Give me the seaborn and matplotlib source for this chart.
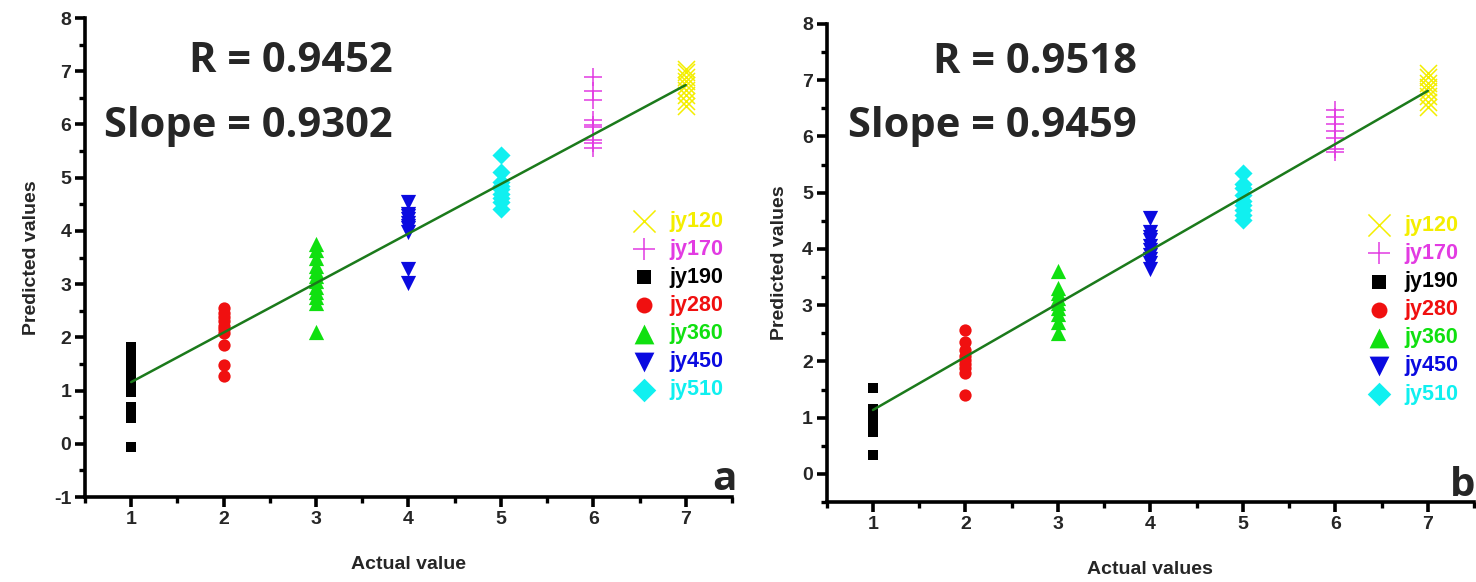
import numpy as np
import pandas as pd
import matplotlib
matplotlib.use("Agg")
import matplotlib.pyplot as plt
from matplotlib.ticker import MultipleLocator
import seaborn as sns

sns.set_theme(style="white")
plt.rcParams["font.family"] = ["Liberation Sans", "DejaVu Sans"]
plt.rcParams["font.weight"] = "bold"
plt.rcParams["axes.labelweight"] = "bold"
plt.rcParams["axes.unicode_minus"] = False

# ---- data -------------------------------------------------------------
series_names = ["jy120", "jy170", "jy190", "jy280", "jy360", "jy450", "jy510"]
actual_levels = [7, 6, 1, 2, 3, 4, 5]

# panel a: predicted values per cultivar
a_jy120 = [7.05, 6.98, 6.90, 6.82, 6.75, 6.65, 6.55, 6.45, 6.35]
a_jy170 = [6.90, 6.62, 6.46, 6.08, 5.99, 5.95, 5.71, 5.65, 5.55]
a_jy190 = [1.82, 1.72, 1.62, 1.52, 1.42, 1.32, 1.22, 1.12, 1.05, 0.98,
           0.70, 0.60, 0.49, -0.06]
a_jy280 = [2.55, 2.45, 2.38, 2.30, 2.22, 2.15, 2.08, 1.85, 1.48, 1.27]
a_jy360 = [3.75, 3.65, 3.50, 3.35, 3.25, 3.15, 3.05, 2.95, 2.85, 2.75,
           2.65, 2.10]
a_jy450 = [4.55, 4.32, 4.28, 4.22, 4.15, 4.10, 4.05, 3.98, 3.28, 3.02]
a_jy510 = [5.42, 5.10, 4.92, 4.85, 4.78, 4.70, 4.62, 4.55, 4.42]

# panel b: predicted values per cultivar
b_jy120 = [7.12, 7.05, 6.95, 6.88, 6.80, 6.72, 6.62, 6.52]
b_jy170 = [6.47, 6.35, 6.22, 6.10, 5.97, 5.78, 5.72]
b_jy190 = [1.52, 1.15, 1.05, 0.98, 0.90, 0.82, 0.75, 0.33]
b_jy280 = [2.56, 2.35, 2.20, 2.10, 2.02, 1.95, 1.88, 1.80, 1.40]
b_jy360 = [3.60, 3.30, 3.22, 3.12, 3.03, 2.95, 2.85, 2.70, 2.50]
b_jy450 = [4.55, 4.30, 4.22, 4.15, 4.05, 3.98, 3.90, 3.82, 3.75, 3.65]
b_jy510 = [5.35, 5.15, 5.08, 4.95, 4.85, 4.78, 4.70, 4.60, 4.52]

a_r, a_slope, a_intercept = 0.9452, 0.9302, 0.23
b_r, b_slope, b_intercept = 0.9518, 0.9459, 0.19
fit_x = [1, 7]

a_values = [a_jy120, a_jy170, a_jy190, a_jy280, a_jy360, a_jy450, a_jy510]
b_values = [b_jy120, b_jy170, b_jy190, b_jy280, b_jy360, b_jy450, b_jy510]

# ---- styling ----------------------------------------------------------
colors = ["#F4EE00", "#E23BE2", "#000000", "#F01010", "#10E010", "#0A0AE0", "#10F0F0"]
markers = ["x", "+", "s", "o", "^", "v", "D"]
sizes = [150, 150, 58, 78, 120, 120, 85]
line_color = "#1B7A1B"

fig = plt.figure(figsize=(14.76, 5.82), dpi=100)
ax_a = fig.add_axes([0.0576, 0.146, 0.4383, 0.823])
ax_b = fig.add_axes([0.5601, 0.1375, 0.4386, 0.8213])


def draw_panel(ax, values, r, slope, intercept, ylim, xlabel, letter,
               txt_pos, letter_pos, legend_anchor):
    for name, lvl, vals, col, mk, sz in zip(series_names, actual_levels, values,
                                            colors, markers, sizes):
        df = pd.DataFrame({"actual": [lvl] * len(vals), "predicted": vals})
        if mk in ("x", "+"):
            sns.scatterplot(data=df, x="actual", y="predicted", ax=ax, marker=mk,
                            color=col, s=sz, linewidth=1.1, label=name, zorder=3)
        else:
            sns.scatterplot(data=df, x="actual", y="predicted", ax=ax, marker=mk,
                            color=col, s=sz, linewidth=0, label=name, zorder=3)

    fit = pd.DataFrame({"actual": fit_x,
                        "predicted": [intercept + slope * v for v in fit_x]})
    sns.lineplot(data=fit, x="actual", y="predicted", ax=ax, color=line_color,
                 linewidth=1.8, zorder=4, legend=False)

    ax.set_xlim(0.5, 7.5)
    ax.set_ylim(*ylim)
    ax.xaxis.set_major_locator(MultipleLocator(1))
    ax.xaxis.set_minor_locator(MultipleLocator(0.5))
    ax.yaxis.set_major_locator(MultipleLocator(1))
    ax.yaxis.set_minor_locator(MultipleLocator(0.5))
    for side in ("top", "right"):
        ax.spines[side].set_visible(False)
    for side in ("left", "bottom"):
        ax.spines[side].set_linewidth(2.6)
        ax.spines[side].set_color("black")
    ax.tick_params(which="major", direction="out", length=7, width=2.6,
                   color="black", labelsize=14, pad=3, left=True, bottom=True)
    ax.tick_params(which="minor", direction="out", length=4, width=2.4,
                   color="black", left=True, bottom=True)
    ax.set_xticks([1, 2, 3, 4, 5, 6, 7])

    ax.set_xlabel(xlabel, fontsize=14, fontweight="bold", labelpad=20)
    ax.set_ylabel("Predicted values", fontsize=14, fontweight="bold", labelpad=10)

    ax.text(txt_pos[0], txt_pos[1], f"R = {r:.4f}", ha="right", va="center",
            fontsize=30, fontweight="bold", family="Open Sans")
    ax.text(txt_pos[0], txt_pos[2], f"Slope = {slope:.4f}", ha="right", va="center",
            fontsize=30, fontweight="bold", family="Open Sans")
    ax.text(letter_pos[0], letter_pos[1], letter, ha=letter_pos[2], va="baseline",
            fontsize=29, fontweight="bold", family="Open Sans", clip_on=False)

    leg = ax.legend(loc="upper left", bbox_to_anchor=legend_anchor, frameon=False,
                    prop={"size": 15.5, "weight": "bold"}, labelspacing=0.33,
                    handletextpad=0.55, handlelength=1.2, borderpad=0.0,
                    markerscale=1.3)
    for txt, col in zip(leg.get_texts(), colors):
        txt.set_color(col)
    ax.set_facecolor("white")


draw_panel(ax_a, a_values, a_r, a_slope, a_intercept, (-1, 8), "Actual value", "a",
           (3.83, 7.18, 5.97), (7.55, -0.87, "right"), (0.828, 0.620))
draw_panel(ax_b, b_values, b_r, b_slope, b_intercept, (-0.5, 8), "Actual values", "b",
           (3.85, 7.32, 6.17), (7.24, -0.40, "left"), (0.817, 0.623))

fig.savefig("out.png", dpi=100, facecolor="white")
